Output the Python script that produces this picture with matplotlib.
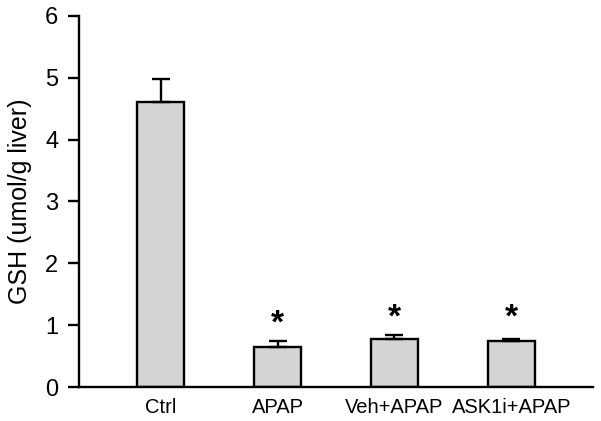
import matplotlib
matplotlib.use("Agg")
import matplotlib.pyplot as plt
import numpy as np

categories = ["Ctrl", "APAP", "Veh+APAP", "ASK1i+APAP"]
gsh_mean = [4.61, 0.65, 0.77, 0.75]
gsh_err = [0.37, 0.09, 0.07, 0.02]
star_marks = ["", "*", "*", "*"]
star_y = [None, 1.01, 1.12, 1.12]
yticks = [0, 1, 2, 3, 4, 5, 6]

plt.rcParams['font.family'] = ['Liberation Sans', 'DejaVu Sans']

fig = plt.figure(figsize=(6.01, 4.21), dpi=100)
ax = fig.add_axes([79/601, 1 - 387/421, (593-79)/601, (387-16)/421])

x = np.arange(len(categories))
ax.bar(x, gsh_mean, width=0.4, color='#d4d4d4', edgecolor='black', linewidth=1.7,
       yerr=[np.zeros(len(gsh_err)), gsh_err],
       error_kw=dict(ecolor='black', elinewidth=1.7, capsize=6.5, capthick=1.7), zorder=2)

for xi, s, sy in zip(x, star_marks, star_y):
    if s:
        ax.text(xi, sy, s, ha='center', va='center', fontsize=24,
                fontweight='bold', color='black')

ax.set_xlim(-0.70, 3.70)
ax.set_ylim(0, 6)
ax.set_yticks(yticks)
ax.set_yticklabels([str(t) for t in yticks], fontsize=17)
ax.set_xticks(x)
ax.set_xticklabels(categories, fontsize=14.5)
ax.tick_params(axis='x', length=0, pad=8)
ax.tick_params(axis='y', length=8, width=1.7, direction='out', pad=7)
for sp in ['top', 'right']:
    ax.spines[sp].set_visible(False)
for sp in ['left', 'bottom']:
    ax.spines[sp].set_linewidth(1.7)
ax.set_ylabel("GSH (umol/g liver)", fontsize=18, labelpad=9)

fig.savefig("out.png", dpi=100)
